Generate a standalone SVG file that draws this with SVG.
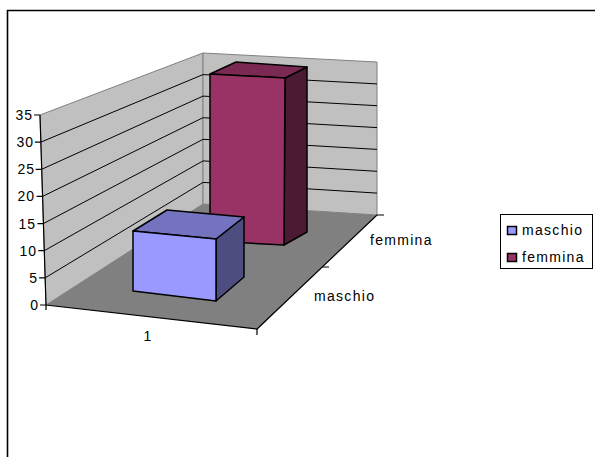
<svg xmlns="http://www.w3.org/2000/svg" width="595" height="457" viewBox="0 0 595 457">
<style>
.wall{fill:#C0C0C0;stroke:#808080;stroke-width:1}
.floor{fill:#808080;stroke:none}
.grid{stroke:#000;stroke-width:1;fill:none}
.axis{stroke:#000;stroke-width:1.2;fill:none}
.bar{stroke:#000;stroke-width:1.5;stroke-linejoin:round}
.num{font-family:"Liberation Sans",Arial,sans-serif;font-size:14px;letter-spacing:1px;fill:#000}
.lbl{font-family:"Liberation Sans",Arial,sans-serif;font-size:14px;letter-spacing:1.3px;fill:#000}
</style>
<rect x="0" y="0" width="595" height="457" fill="#fff"/>
<path d="M7.5,457 V10.5 H595" fill="none" stroke="#000" stroke-width="1.6"/>
<g id="chart-walls">
<polygon class="wall" points="40,115 203,53 203,204 46,305"/>
<polygon class="wall" points="203,53 377,62 377,215 203,204"/>
<polygon class="floor" points="46,305 203,204 377,215 257,329"/>
</g>
<g id="gridlines">
<path class="grid" d="M40.9,142.1 L203,74.6 L377,83.9 M41.7,169.3 L203,96.1 L377,105.7 M42.6,196.4 L203,117.7 L377,127.6 M43.4,223.6 L203,139.3 L377,149.4 M44.3,250.7 L203,160.9 L377,171.3 M45.1,277.9 L203,182.4 L377,193.1"/>
</g>
<g id="axes">
<path class="axis" d="M40,115 L46,305 L257,329 L377,215"/>
<path class="axis" d="M34,115 H40 M34.9,142.1 H40.9 M35.7,169.3 H41.7 M36.6,196.4 H42.6 M37.4,223.6 H43.4 M38.3,250.7 H44.3 M39.1,277.9 H45.1 M40,305 H46 M46,305 V310 M257,329 V335 M322.3,267 H329 M377,215 H384"/>
</g>
<g id="axis-labels">
<text class="num" x="33" y="120" text-anchor="end">35</text>
<text class="num" x="34" y="147" text-anchor="end">30</text>
<text class="num" x="35" y="174" text-anchor="end">25</text>
<text class="num" x="35" y="201" text-anchor="end">20</text>
<text class="num" x="36" y="229" text-anchor="end">15</text>
<text class="num" x="37" y="256" text-anchor="end">10</text>
<text class="num" x="38" y="283" text-anchor="end">5</text>
<text class="num" x="39" y="310" text-anchor="end">0</text>
<text class="num" x="148" y="341" text-anchor="middle">1</text>
<text class="lbl" x="314" y="301">maschio</text>
<text class="lbl" x="370" y="245">femmina</text>
</g>
<g id="bar-femmina">
<polygon class="bar" fill="#4D1A33" points="285,78 307,67 307,232 284,245"/>
<polygon class="bar" fill="#7A2952" points="210,74 236,62 307,67 285,78"/>
<polygon class="bar" fill="#993366" points="210,74 285,78 284,245 210,241"/>
</g>
<g id="bar-maschio">
<polygon class="bar" fill="#4D4D80" points="216,239 244,217 244,277 216,301"/>
<polygon class="bar" fill="#7373BF" points="133,231 167,210 244,217 216,239"/>
<polygon class="bar" fill="#9999FF" points="133,231 216,239 216,301 133,291"/>
</g>
<g id="legend">
<rect x="500.5" y="214.5" width="92" height="54" fill="#fff" stroke="#000" stroke-width="1"/>
<rect x="507.5" y="226.5" width="9" height="8" fill="#9999FF" stroke="#000" stroke-width="1.5"/>
<rect x="507.5" y="253.5" width="9" height="8" fill="#993366" stroke="#000" stroke-width="1.5"/>
<text class="lbl" x="522" y="235">maschio</text>
<text class="lbl" x="522" y="262">femmina</text>
</g>
</svg>
